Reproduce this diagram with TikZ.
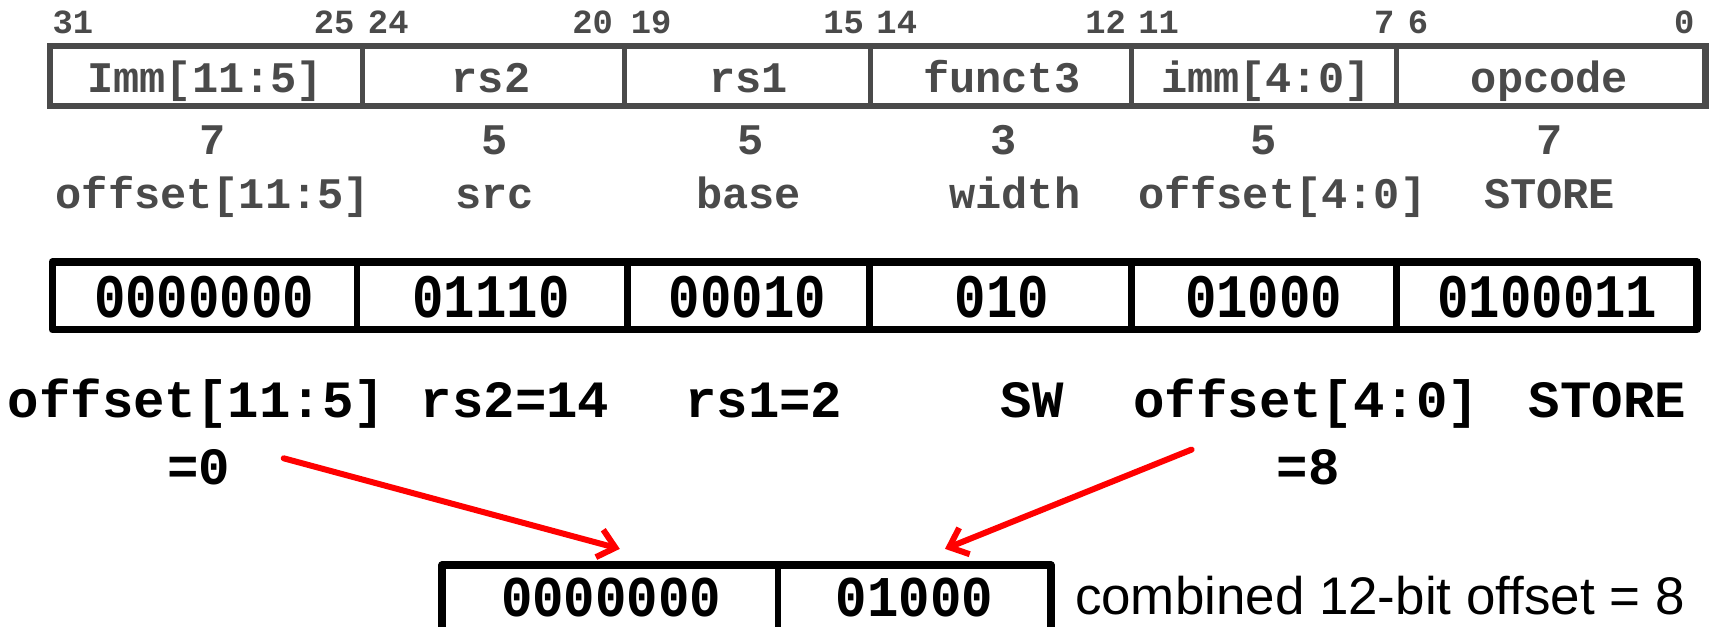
\documentclass[tikz,border=0pt]{standalone}
\usepackage{fontspec}
\newfontfamily\cour{Liberation Mono}
\newfontfamily\ari{Liberation Sans}
\usetikzlibrary{arrows.meta}
\definecolor{dg}{HTML}{4A4A4A}
\definecolor{rd}{HTML}{FF0000}
\newcommand{\tallval}[1]{\scalebox{1}[1.18]{#1}}
\newcommand{\tallvalb}[1]{\scalebox{1}[1.1]{#1}}
\begin{document}
\begin{tikzpicture}[x=1pt,y=-1pt,
  bitnum/.style={inner sep=0pt,text=dg,font=\cour\bfseries\fontsize{31}{31}\selectfont},
  field/.style={inner sep=0pt,anchor=base,text=dg,font=\cour\bfseries\fontsize{40}{40}\selectfont},
  val/.style={inner sep=0pt,anchor=base,text=black,font=\cour\bfseries\fontsize{48}{48}\selectfont},
  lab/.style={inner sep=0pt,anchor=base,text=black,font=\cour\bfseries\fontsize{48}{48}\selectfont},
  note/.style={inner sep=0pt,anchor=base west,text=black,font=\ari\fontsize{48.5}{48.5}\selectfont},
  outerg/.style={draw=dg,line width=6pt},
  divg/.style={draw=dg,line width=4.5pt},
  outerb/.style={draw=black,line width=7pt,line join=round},
  divb/.style={draw=black,line width=6pt},
  redarrow/.style={draw=rd,line width=5.5pt,line cap=round,-{Straight Barb[length=15pt,width=26pt,line width=5.5pt]}}
]
\useasboundingbox (0,0) rectangle (1568,574);
\clip (0,0) rectangle (1568,574);
% top register
\draw[outerg] (46,42) rectangle (1563,97);
\foreach \x in {332,572,798,1037,1280} \draw[divg] (\x,42) -- (\x,97);
\foreach \t/\x/\n in {Imm[11:5]/188/f1, rs2/450/f2, rs1/686/f3, funct3/918/f4, imm[4:0]/1160/f5, opcode/1420/f6}
  \node[field] (\n) at (\x,85) {\t};
% bit numbers
\foreach \t/\x/\n in {31/48/l1, 24/337/l2, 19/578/l3, 14/803/l4, 11/1043/l5, 6/1290/l6}
  \node[bitnum,anchor=base west] (\n) at (\x,31) {\t};
\foreach \t/\x/\n in {25/325/r1, 20/562/r2, 15/792/r3, 12/1032/r4, 7/1278/r5, 0/1553/r6}
  \node[bitnum,anchor=base east] (\n) at (\x,31) {\t};
% widths
\foreach \t/\x/\n in {7/195/w1, 5/453/w2, 5/688/w3, 3/920/w4, 5/1158/w5, 7/1420/w6}
  \node[field] (\n) at (\x,142) {\t};
% names
\foreach \t/\x/\n in {offset[11:5]/195/n1, src/453/n2, base/686/n3, width/930/n4, offset[4:0]/1175/n5, STORE/1420/n6}
  \node[field] (\n) at (\x,191) {\t};
% value register
\draw[outerb] (48,240) rectangle (1555,302);
\foreach \x in {327,575,797,1037,1280} \draw[divb] (\x,240) -- (\x,302);
\foreach \t/\x/\n in {0000000/187/v1, 01110/450/v2, 00010/685/v3, 010/918/v4, 01000/1158/v5, 0100011/1418/v6}
  \node[val] (\n) at (\x,291) {\tallval{\t}};
% decoded labels
\foreach \t/\x/\n in {offset[11:5]/180/d1, rs2=14/472/d2, rs1=2/700/d3, SW/946/d4, offset[4:0]/1197/d5, STORE/1473/d6}
  \node[lab] (\n) at (\x,383) {\t};
\node[lab] (e0) at (182,444) {=0};
\node[lab] (e8) at (1199,444) {=8};
% combined register
\draw[outerb] (405,518) rectangle (963,590);
\draw[divb] (713,518) -- (713,590);
\node[val] (c1) at (560,565) {\tallvalb{0000000}};
\node[val] (c2) at (838,565) {\tallvalb{01000}};
\node[note] (cn) at (985,563) {combined 12-bit offset = 8};
% arrows
\coordinate (a1s) at (260,420);
\coordinate (a1e) at (568,503);
\coordinate (a2s) at (1092,412);
\coordinate (a2e) at (866,503);
\draw[redarrow] (a1s) -- (a1e);
\draw[redarrow] (a2s) -- (a2e);
\end{tikzpicture}
\end{document}
